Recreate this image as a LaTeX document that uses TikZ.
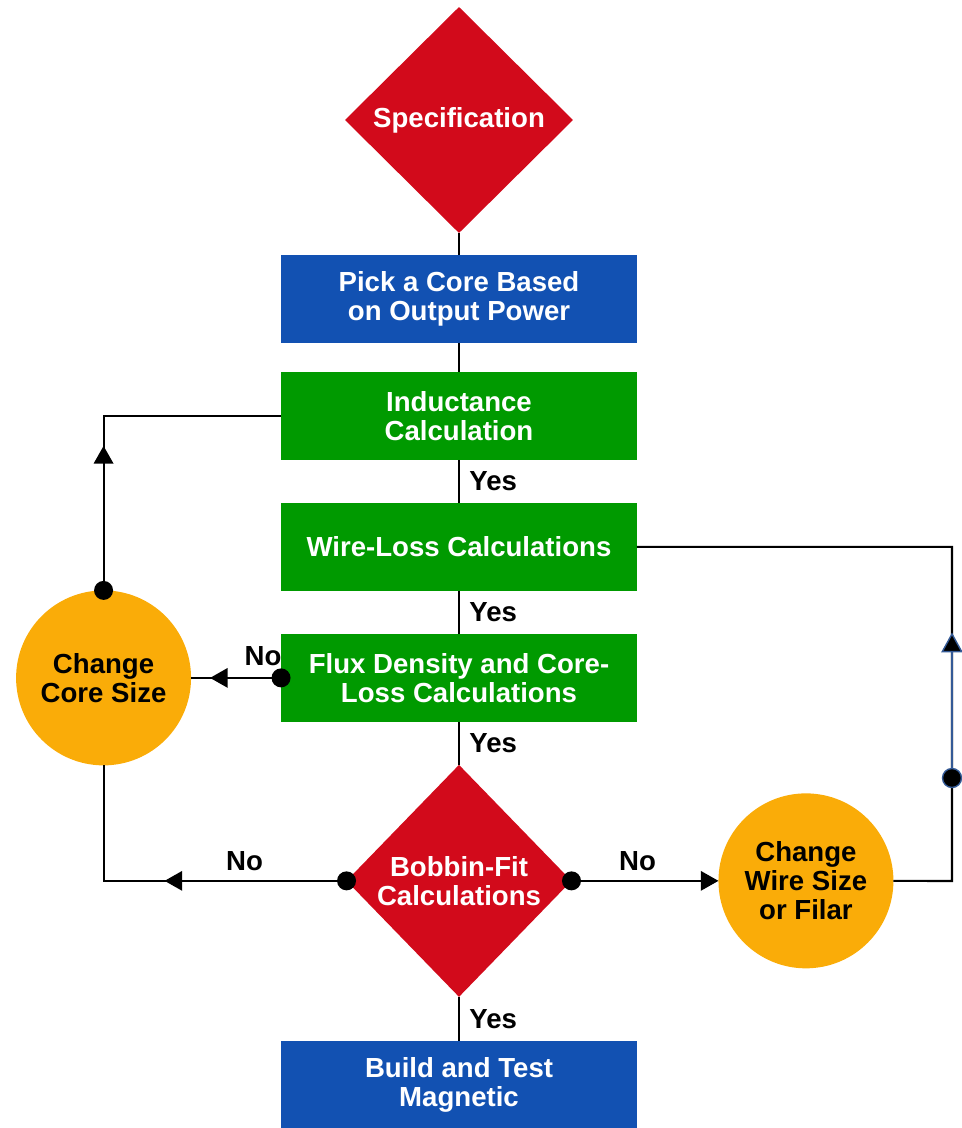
\documentclass[tikz,border=0pt]{standalone}
\usepackage{fontspec}
\setmainfont{Liberation Sans}
\usepackage{tikz}
\usetikzlibrary{shapes.geometric, positioning, arrows.meta, decorations.markings}

\definecolor{specred}{RGB}{210,10,27}
\definecolor{coreblue}{RGB}{18,81,178}
\definecolor{calcgreen}{RGB}{0,154,0}
\definecolor{loopyellow}{RGB}{250,172,8}
\definecolor{lineblue}{RGB}{52,90,150}

\begin{document}
\begin{tikzpicture}[x=0.02cm, y=-0.02cm, line width=1.2pt,
	font=\fontsize{15.7}{16.6}\selectfont\bfseries,
	>={Triangle[width=11pt,length=10pt]},
	decision/.style={
		diamond, aspect=1,
		fill=specred, text=white,
		align=center, inner sep=0pt, outer sep=0pt,
		minimum width=4.56cm, minimum height=4.52cm,
	},
	corebox/.style={
		rectangle, fill=coreblue, text=white,
		align=center, inner sep=0pt, outer sep=0pt,
		minimum width=7.12cm, minimum height=1.76cm,
	},
	calcbox/.style={corebox, fill=calcgreen},
	loopcircle/.style={circle, fill=loopyellow, align=center, inner sep=0pt, outer sep=0pt, minimum size=3.5cm},
	dot/.style={circle, fill=black, inner sep=0pt, minimum size=0.38cm},
	midarrow/.style={postaction={decorate}, decoration={markings, mark=at position #1 with {\arrow{>}}}},
	]
	\useasboundingbox (0,0) rectangle (961,1128);

	\node[decision] (spec) at (459,120) {Specification};
	\node[corebox, below of = spec, node distance = 3.58cm] (pick) {Pick a Core Based\\on Output Power};
	\node[calcbox, below of = pick, node distance = 2.34cm] (induct) {Inductance\\Calculation};
	\node[calcbox, below of = induct, node distance = 2.62cm] (wireloss) {Wire-Loss Calculations};
	\node[calcbox, below of = wireloss, node distance = 2.62cm] (flux) {Flux Density and Core-\\Loss Calculations};
	\node[decision, below of = flux, node distance = 4.06cm, minimum width=4.5cm, minimum height=4.64cm] (bobbin) {Bobbin-Fit\\Calculations};
	\node[corebox, below of = bobbin, node distance = 4.08cm] (build) {Build and Test\\Magnetic};
	\node[loopcircle, left of = flux, node distance = 7.11cm] (coresize) {Change\\Core Size};
	\node[loopcircle, right of = bobbin, node distance = 6.94cm] (wiresize) {Change\\Wire Size\\or Filar};

	\coordinate (ul) at (coresize.north |- induct.west);
	\coordinate (bl) at (coresize.south |- bobbin.west);
	\coordinate (br) at (952,881);
	\coordinate (tr) at (br |- wireloss.east);
	\coordinate (rdot) at (952,778);
	\coordinate (rtip) at (952,634);

	\path (spec) edge (pick)
	(pick) edge (induct)
	(induct) edge node[right=2pt]{Yes} (wireloss)
	(wireloss) edge node[right=2pt]{Yes} (flux)
	(flux) edge node[right=2pt]{Yes} (bobbin)
	(bobbin) edge node[right=2pt]{Yes} (build);

	\draw[midarrow=2.89cm] (coresize.north) -- (ul) -- (induct.west);
	\draw[midarrow=1.42cm] (flux.west) -- node[above=3pt, pos=0.2]{No} (coresize.east);
	\draw[midarrow=3.64cm] (bobbin.west) -- node[above=2pt, pos=0.42]{No} (bl) -- (coresize.south);
	\draw[->] (bobbin.east) -- node[above=2pt, pos=0.45]{No} (wiresize.west);
	\draw (wiresize.east) -- (br) -- (tr) -- (wireloss.east);
	\draw[lineblue] (rdot) -- (rtip);
	% black tip with blue rim
	\filldraw[fill=black, draw=lineblue, line width=0.8pt, line join=miter] (rtip) -- ++(5.5pt,-10pt) -- ++(-11pt,0pt) -- cycle;

	\node[dot] (d1) at (coresize.north) {};
	\node[dot] (d2) at (flux.west) {};
	\node[dot] (d3) at (bobbin.west) {};
	\node[dot] (d4) at (bobbin.east) {};
	\node[dot, draw=lineblue, line width=0.8pt] (d5) at (rdot) {};
\end{tikzpicture}
\end{document}
